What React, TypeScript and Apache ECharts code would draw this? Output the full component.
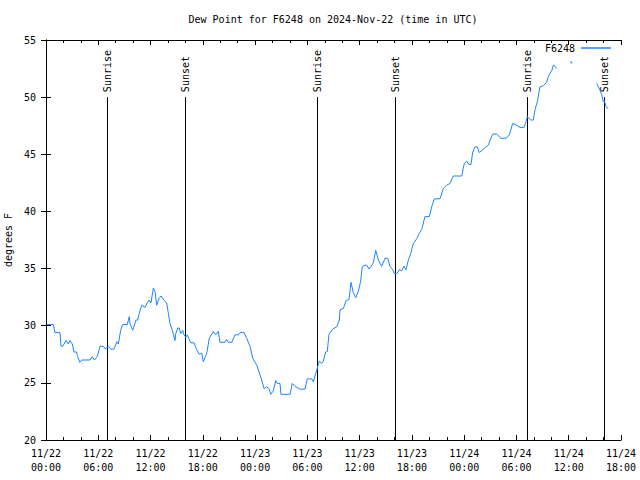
import React, { useEffect, useRef } from "react";
import * as echarts from "echarts";

// Time in hours since 2024-11-22 00:00 UTC
const hours = [
  0.08, 0.84, 1.03, 1.61, 1.72, 1.92, 2.3, 2.56, 2.75, 3.02, 3.21, 3.52, 3.59, 3.79, 3.87, 4.1, 5.05, 5.31, 5.54, 5.89,
  6.2, 6.58, 6.81, 7.15, 7.43, 7.81, 8.12, 8.3, 8.57, 8.8, 9.33, 9.56, 9.64, 9.95, 10.33, 10.53, 10.71, 10.98, 11.36, 11.63,
  11.86, 12.05, 12.32, 12.51, 12.71, 12.97, 13.2, 13.58, 13.85, 14.04, 14.23, 14.5, 14.81, 14.89, 15.12, 15.3, 15.46, 15.69, 15.84, 16.04,
  16.22, 16.38, 16.61, 16.99, 17.3, 17.6, 17.87, 18.06, 18.45, 18.74, 19.2, 19.48, 19.78, 19.97, 20.55, 20.74, 20.92, 21.32, 21.69, 22.07,
  22.27, 22.73, 23.04, 23.42, 23.73, 24.19, 24.45, 24.76, 25.02, 25.33, 25.6, 25.79, 26.09, 26.37, 26.55, 26.86, 26.97, 28.01, 28.27, 28.58,
  29.16, 29.73, 29.99, 30.5, 30.68, 31.07, 31.37, 31.65, 31.83, 32.1, 32.29, 32.48, 32.91, 33.37, 33.67, 33.75, 34.13, 34.44, 34.78, 35.01,
  35.27, 35.55, 35.85, 36.12, 36.31, 36.62, 36.81, 37.08, 37.31, 37.57, 37.85, 38.15, 38.53, 38.91, 39.22, 39.49, 39.8, 39.98, 40.26, 40.55,
  40.83, 41.09, 41.32, 41.59, 41.86, 42.16, 42.55, 42.85, 43.12, 43.5, 44.0, 44.27, 44.57, 45.22, 45.6, 45.99, 46.37, 46.75, 47.72, 48.01,
  48.29, 48.55, 48.78, 48.98, 49.24, 49.51, 49.74, 50.13, 50.51, 50.77, 50.96, 51.27, 51.73, 52.23, 52.8, 53.18, 53.57, 54.03, 54.41, 54.87,
  55.1, 55.25, 55.48, 55.64, 55.94, 56.13, 56.39, 56.7, 57.08, 57.47, 57.66, 57.85, 58.05, 58.23, 58.42, 58.62,
  60.0,
  63.21, 63.4, 63.59, 63.79, 63.97, 64.09, 64.28, 64.54,
];

// Dew point in °F (null = missing data)
const dewPoint: (number | null)[] = [
  30.1, 30.1, 29.4, 29.4, 28.2, 28.2, 28.7, 28.4, 28.7, 28.4, 27.7, 27.7, 27.4, 27.0, 26.8, 27.0, 27.0, 27.3, 27.0, 27.3,
  28.2, 28.2, 27.95, 28.2, 27.95, 27.95, 28.6, 28.4, 29.6, 30.1, 30.1, 30.8, 30.2, 29.6, 30.5, 30.5, 31.1, 31.8, 31.6, 32.0,
  32.25, 32.0, 33.3, 33.0, 31.8, 32.4, 32.6, 32.2, 32.0, 31.1, 30.2, 29.6, 28.7, 29.3, 29.8, 29.8, 29.3, 29.6, 29.2, 29.0,
  29.2, 28.9, 28.5, 28.5, 27.9, 27.5, 27.6, 26.85, 27.6, 28.9, 29.5, 29.2, 29.5, 28.55, 28.55, 28.8, 28.55, 28.55, 29.2, 29.2,
  29.4, 29.4, 28.9, 28.2, 27.15, 26.55, 25.97, 25.25, 24.5, 24.65, 24.5, 24.0, 24.3, 25.2, 24.95, 24.95, 24.0, 24.0, 24.95, 24.7,
  24.45, 24.45, 25.35, 25.35, 25.1, 26.1, 26.9, 26.7, 26.9, 27.7, 27.75, 29.25, 29.7, 29.9, 30.5, 31.4, 31.5, 32.2, 32.3, 33.8,
  32.9, 32.45, 33.0, 33.9, 35.2, 35.3, 35.3, 34.96, 35.2, 35.5, 36.6, 35.75, 35.2, 35.9, 35.9, 35.2, 34.9, 34.55, 34.55, 34.9,
  34.8, 35.2, 34.9, 35.75, 36.3, 37.2, 37.6, 38.1, 38.4, 39.55, 39.55, 40.4, 41.1, 41.1, 42.0, 42.3, 42.45, 43.1, 43.1, 44.2,
  44.4, 44.1, 44.1, 45.2, 45.65, 45.65, 45.15, 45.4, 45.65, 45.8, 46.2, 46.77, 46.77, 46.4, 46.4, 46.7, 47.7, 47.55, 47.35, 47.35,
  47.85, 48.3, 48.1, 48.0, 48.0, 48.9, 49.6, 50.9, 51.0, 51.3, 51.8, 52.1, 52.3, 52.8, 52.7, 52.5,
  null,
  51.2, 50.9, 50.6, 50.2, 49.6, 49.7, 49.15, 49.0,
];

// Isolated reading inside the data gap
const isolatedHours = [60.3];
const isolatedDewPoint = [53.04];

// Sunrise / sunset times (hours since 2024-11-22 00:00 UTC)
const sunHours = [7.05, 16.0, 31.13, 40.03, 55.17, 64.05];
const sunLabels = ["Sunrise", "Sunset", "Sunrise", "Sunset", "Sunrise", "Sunset"];

const xTickLabelsDays = ["11/22", "11/23", "11/24"];

const FONT = '"DejaVu Sans Mono", "Liberation Mono", monospace';
const LINE_COLOR = "#1a85ff";

export default function App() {
  const ref = useRef<HTMLDivElement>(null);

  useEffect(() => {
    document.body.style.margin = "0";
    if (!ref.current) return;
    const chart = echarts.init(ref.current, null, { renderer: "svg" });

    const lineData = hours.map((h, i) => [h, dewPoint[i] === null ? "-" : dewPoint[i]]);
    const isoData = isolatedHours.map((h, i) => [h, isolatedDewPoint[i]]);
    const sunData = sunHours.map((h) => [h]);

    const pad = (n: number) => (n < 10 ? "0" + n : "" + n);
    const xFmt = (v: number) => {
      const d = Math.floor(v / 24 + 1e-9);
      const hh = Math.round(v - d * 24);
      return `${xTickLabelsDays[d] ?? "11/" + (22 + d)}\n${pad(hh)}:00`;
    };

    const axisCommon = {
      axisLine: { show: true, lineStyle: { color: "#000", width: 1 } },
      axisTick: { show: true, inside: true, length: 5, lineStyle: { color: "#000" } },
      splitLine: { show: false },
    };

    chart.setOption({
      animation: false,
      backgroundColor: "#fff",
      textStyle: { fontFamily: FONT },
      grid: { left: 46, right: 19, top: 40, bottom: 40, containLabel: false, outerBoundsMode: "none" },
      graphic: [
        {
          type: "text",
          x: 333,
          y: 19,
          style: {
            text: "Dew Point for F6248 on 2024-Nov-22 (time in UTC)",
            font: `10px ${FONT}`,
            fill: "#000",
            align: "center",
            verticalAlign: "middle",
            textAlign: "center",
            textVerticalAlign: "middle",
          },
        },
      ],
      legend: {
        data: [{ name: "F6248", icon: "rect" }],
        right: 29,
        top: 43,
        padding: 0,
        align: "right",
        itemWidth: 30,
        itemHeight: 1.5,
        itemGap: 5,
        textStyle: { fontFamily: FONT, fontSize: 10, color: "#000", padding: [0, 1, 0, 0] },
      },
      xAxis: [
        {
          type: "value",
          min: 0,
          max: 66,
          interval: 6,
          position: "bottom",
          ...axisCommon,
          minorTick: { show: true, splitNumber: 3, length: 3, lineStyle: { color: "#000" } },
          axisLabel: {
            formatter: xFmt,
            fontFamily: FONT,
            fontSize: 10,
            color: "#000",
            lineHeight: 14,
            margin: 6,
          },
        },
        {
          type: "value",
          min: 0,
          max: 66,
          interval: 6,
          position: "top",
          ...axisCommon,
          minorTick: { show: true, splitNumber: 3, length: 3, lineStyle: { color: "#000" } },
          axisLabel: { show: false },
        },
      ],
      yAxis: [
        {
          type: "value",
          min: 20,
          max: 55,
          interval: 5,
          position: "left",
          ...axisCommon,
          name: "degrees F",
          nameLocation: "middle",
          nameGap: 31,
          nameRotate: 90,
          nameTextStyle: { fontFamily: FONT, fontSize: 10, color: "#000" },
          axisLabel: { fontFamily: FONT, fontSize: 10, color: "#000", margin: 10 },
        },
        {
          type: "value",
          min: 20,
          max: 55,
          interval: 5,
          position: "right",
          ...axisCommon,
          axisLabel: { show: false },
        },
      ],
      series: [
        {
          name: "F6248",
          type: "line",
          data: lineData,
          showSymbol: false,
          symbol: "none",
          connectNulls: false,
          color: LINE_COLOR,
          lineStyle: { color: LINE_COLOR, width: 1 },
          z: 3,
        },
        {
          name: "F6248",
          type: "scatter",
          data: isoData,
          symbol: "rect",
          symbolSize: 2,
          color: LINE_COLOR,
          itemStyle: { color: LINE_COLOR },
          z: 3,
        },
        {
          name: "sun",
          type: "custom",
          data: sunData,
          z: 2,
          renderItem: (params: any, api: any) => {
            const x = api.value(0);
            const top = api.coord([x, 50]);
            const bot = api.coord([x, 20]);
            const px = Math.round(top[0]) + 0.5;
            return {
              type: "group",
              children: [
                {
                  type: "line",
                  shape: { x1: px, y1: top[1], x2: px, y2: bot[1] },
                  style: { stroke: "#000", lineWidth: 1 },
                },
                {
                  type: "text",
                  x: px,
                  y: top[1] - 5,
                  rotation: Math.PI / 2,
                  style: {
                    text: sunLabels[params.dataIndex],
                    font: `10px ${FONT}`,
                    fill: "#000",
                    align: "left",
                    verticalAlign: "middle",
                  },
                },
              ],
            };
          },
        },
      ],
    });

    return () => chart.dispose();
  }, []);

  return <div ref={ref} style={{ width: 640, height: 480 }} />;
}
